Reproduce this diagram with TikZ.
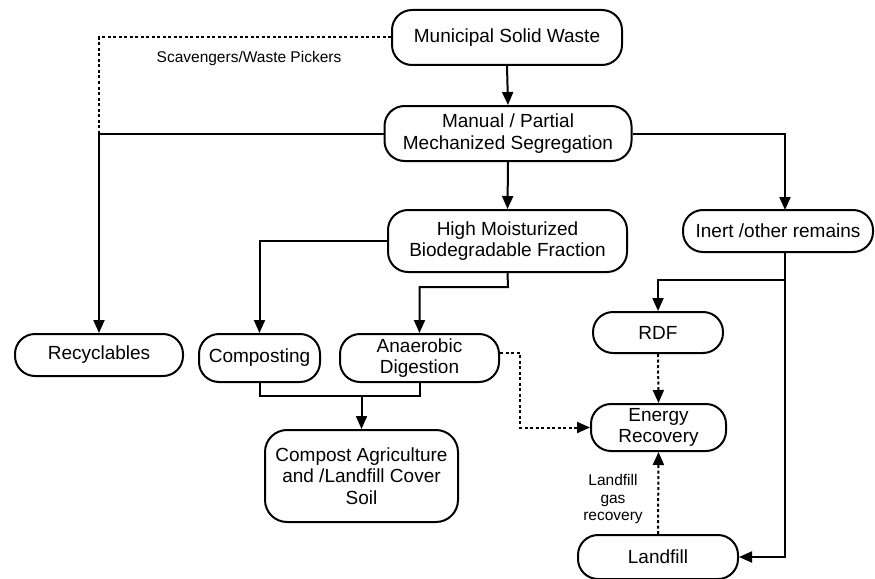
\documentclass[tikz,border=0pt]{standalone}
\usepackage{fontspec}
\setmainfont{Liberation Sans}
\usetikzlibrary{arrows.meta}
\begin{document}
\begin{tikzpicture}[x=1pt,y=-1pt,
  box/.style={draw,line width=2pt,rounded corners=20pt,align=center,inner sep=0pt,
    font=\fontsize{19}{21.5}\selectfont},
  lab/.style={align=center,inner sep=0pt,font=\fontsize{15.5}{17.5}\selectfont},
  conn/.style={line width=2pt},
  arr/.style={conn,-{Triangle[length=13pt,width=11pt]}},
  dotl/.style={line width=2pt,dash pattern=on 3pt off 2.5pt},
  darr/.style={dotl,-{Triangle[length=13pt,width=11pt]}}]
\useasboundingbox (0,0) rectangle (875,578);
% nodes
\node[box,minimum width=230pt,minimum height=55pt] (msw) at (507,37.5) {Municipal Solid Waste};
\node[box,minimum width=247pt,minimum height=55pt] (seg) at (508,133.5) {Manual / Partial\\Mechanized Segregation};
\node[box,minimum width=239pt,minimum height=62pt] (bio) at (507.5,241) {High Moisturized\\Biodegradable Fraction};
\node[box,minimum width=190pt,minimum height=42pt] (inert) at (778,231) {Inert /other remains};
\node[box,minimum width=168pt,minimum height=42pt] (rec) at (99,355) {Recyclables};
\node[box,minimum width=121pt,minimum height=48pt] (comp) at (259.5,358) {Composting};
\node[box,minimum width=159pt,minimum height=48pt] (ad) at (419.5,358) {Anaerobic\\Digestion};
\node[box,minimum width=193pt,minimum height=92pt,rounded corners=22pt] (cas) at (361.5,476) {Compost Agriculture\\and /Landfill Cover\\Soil};
\node[box,minimum width=130pt,minimum height=41pt] (rdf) at (658,332.5) {RDF};
\node[box,minimum width=135pt,minimum height=47pt] (en) at (658.5,427.5) {Energy\\Recovery};
\node[box,minimum width=160pt,minimum height=44pt] (lf) at (658,557) {Landfill};
% labels
\node[lab] (scav) at (249,58) {Scavengers/Waste Pickers};
\node[lab] (lgr) at (613,499) {Landfill\\gas\\recovery};
% coordinates
\coordinate (j1) at (99,133.5);
\coordinate (it) at (785,210);
\coordinate (b1) at (508,287);
\coordinate (m1) at (361.5,396);
\coordinate (i1) at (785,252);
\coordinate (i2) at (785,280);
\coordinate (a1) at (520,427.5);
% connectors
\draw[arr] (msw.south) -- (seg.north);
\draw[dotl] (msw.west) -| (j1);
\draw[arr] (seg.west) -| (rec.north);
\draw[arr] (seg.east) -| (it);
\draw[arr] (seg.south) -- (bio.north);
\draw[arr] (bio.west) -| (comp.north);
\draw[arr] (bio.south) -- (b1) -| (ad.north);
\draw[conn] (comp.south) |- (m1) -| (ad.south);
\draw[arr] (m1) -- (cas.north);
\draw[arr] (i1) -- (i2) -| (rdf.north);
\draw[arr] (i2) |- (lf.east);
\draw[darr] (rdf.south) -- (en.north);
\draw[darr] ([yshift=5pt]ad.east) -| (a1) -- (en.west);
\draw[darr] (lf.north) -- (en.south);
\end{tikzpicture}
\end{document}
